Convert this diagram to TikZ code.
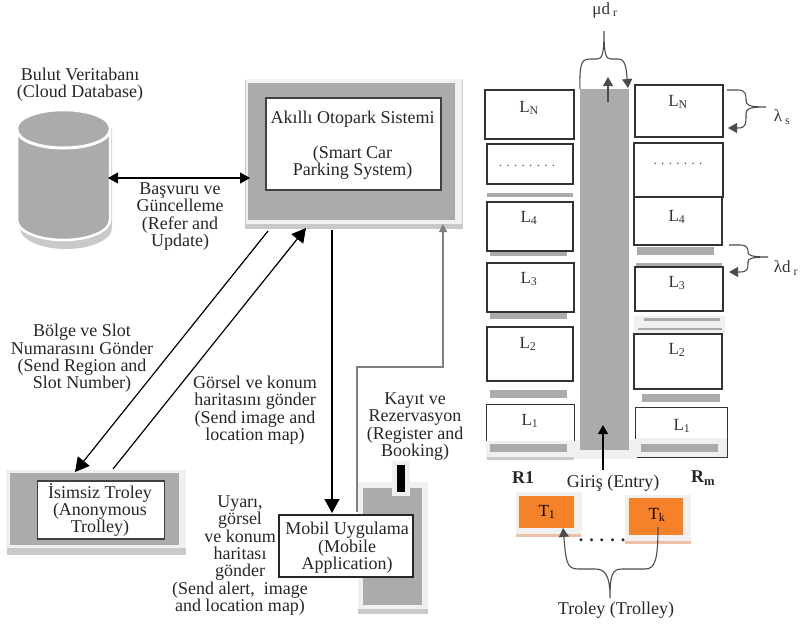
\documentclass[tikz,border=0pt]{standalone}
\usepackage{fontspec}
\setmainfont{Liberation Serif}
\usetikzlibrary{arrows.meta}
\definecolor{panelgrey}{HTML}{ABABAB}
\definecolor{edgegrey}{HTML}{C9C9C9}
\definecolor{paleedge}{HTML}{F0F0F0}
\definecolor{linegrey}{HTML}{808080}
\definecolor{trolleyorange}{HTML}{F58229}
\definecolor{paleorange}{HTML}{EBC0A4}
\begin{document}
\begin{tikzpicture}[x=1pt,y=-1pt,
 lab/.style={align=center,inner sep=0pt,font=\fontsize{18}{17.4}\selectfont,text=black!85},
 sub/.style={inner sep=0pt,font=\fontsize{17}{17}\selectfont,text=black!80},
 boldlab/.style={inner sep=0pt,font=\fontsize{18}{17}\bfseries\selectfont,text=black!85},
 tiny/.style={inner sep=0pt,font=\fontsize{13}{13}\selectfont,text=black!70},
 panel/.style={rectangle,fill=panelgrey,inner sep=0pt},
 halo/.style={rectangle,fill=paleedge,inner sep=0pt},
 rim/.style={rectangle,fill=edgegrey,inner sep=0pt},
 whitebox/.style={rectangle,draw=black!75,fill=white,line width=1.3pt,inner sep=0pt},
 slot/.style={rectangle,draw=black!80,fill=white,line width=1.2pt,inner sep=0pt},
 cart/.style={rectangle,fill=trolleyorange,inner sep=0pt},
 conn/.style={black,line width=1.2pt},
 big/.style={conn,-{Triangle[length=14pt,width=15pt]}},
 small/.style={conn,-{Triangle[length=9pt,width=10pt]}},
 brace/.style={draw=black!70,line width=1.1pt}]
 \useasboundingbox (0,0) rectangle (802,625);

 \fill[edgegrey] (20,128) -- (20,228) arc[start angle=180,end angle=0,x radius=46,y radius=21] -- (112,128) -- cycle;
 \filldraw[fill=panelgrey,draw=white,line width=2.5pt] (17,128) -- (17,220) arc[start angle=180,end angle=0,x radius=46.5,y radius=20] -- (110,128) arc[start angle=0,end angle=-180,x radius=46.5,y radius=18] -- cycle;
 \draw[white,line width=3pt] (17,130) arc[start angle=180,end angle=0,x radius=46.5,y radius=18];
 \node[lab] (cloudtxt) at (80,84.5) {Bulut Veritabanı\\(Cloud Database)};

 \node[rim,minimum width=218pt,minimum height=149pt] (sysedge) at (354,154) {};
 \node[halo,minimum width=216pt,minimum height=145pt] (syshalo) at (353.5,151.5) {};
 \node[panel,minimum width=207pt,minimum height=137pt] (sys) at (351.5,151.5) {};
 \node[whitebox,minimum width=175pt,minimum height=92pt] (sysbox) at (353.5,144) {};
 \node[lab] (systxt) at (352.5,145.5) {Akıllı Otopark Sistemi\\[17.4pt](Smart Car\\Parking System)};

 \node[rim,minimum width=179pt,minimum height=83pt] (tredge) at (96.5,513) {};
 \node[halo,minimum width=180pt,minimum height=78pt] (trhalo) at (96,509) {};
 \node[panel,minimum width=169pt,minimum height=72pt] (troll) at (94.5,509) {};
 \node[whitebox,minimum width=127pt,minimum height=58pt] (trbox) at (101,510) {};
 \node[lab] (trtxt) at (100,510) {İsimsiz Troley\\(Anonymous\\Trolley)};

 \node[rim,minimum width=70pt,minimum height=132pt] (phoneedge) at (393,548) {};
 \node[halo,minimum width=70pt,minimum height=127pt] (phonehalo) at (393,545) {};
 \node[panel,minimum width=59pt,minimum height=117pt] (phone) at (392.5,546.5) {};
 \node[halo,minimum width=18pt,minimum height=35pt] (camhalo) at (401,478) {};
 \node[rectangle,fill=black,inner sep=0pt,minimum width=8pt,minimum height=27pt] (cam) at (401,478.5) {};
 \node[whitebox,draw=black!85,minimum width=134pt,minimum height=62pt] (mob) at (346,546) {};
 \node[lab] (mobtxt) at (347,548) {Mobil Uygulama\\(Mobile\\Application)};

 \node[lab] (refer) at (180,216.5) {Başvuru ve\\Güncelleme\\(Refer and\\Update)};
 \node[lab] (region) at (82,358.5) {Bölge ve Slot\\Numarasını Gönder\\(Send Region and\\Slot Number)};
 \node[lab] (imagetxt) at (255,410) {Görsel ve konum\\haritasını gönder\\(Send image and\\location map)};
 \node[lab] (booking) at (415,426.5) {Kayıt ve\\Rezervasyon\\(Register and\\Booking)};
 \node[lab] (alert) at (240,555.5) {Uyarı,\\görsel\\ve konum\\haritası\\gönder\\(Send alert,~ image\\and location map)};

 \coordinate (sysleft) at (250,178);
 \coordinate (cloudright) at (108,178);
 \coordinate (sysa) at (268,231);
 \coordinate (trolla) at (75,472);
 \coordinate (trollb) at (113,469);
 \coordinate (sysb) at (306,228);
 \coordinate (sysc) at (332,230);
 \coordinate (mobtop) at (332,513);
 \coordinate (phonetop) at (357,512);
 \coordinate (bend1) at (357,367);
 \coordinate (bend2) at (443,367);
 \coordinate (sysd) at (443,224);
 \draw[conn,{Triangle[length=10pt,width=11pt]}-{Triangle[length=10pt,width=11pt]}] (cloudright)--(sysleft);
 \draw[big] (sysa)--(trolla);
 \draw[big] (trollb)--(sysb);
 \draw[big] (sysc)--(mobtop);
 \draw[conn,draw=linegrey,-{Triangle[length=8pt,width=8pt]}] (phonetop)--(bend1)--(bend2)--(sysd);

 \fill[paleedge] (486,440) rectangle (636,459);
 \fill[paleedge] (636,438) rectangle (727,458);
 \fill[paleedge] (634,316) rectangle (725,334);
 \node[panel,minimum width=49pt,minimum height=361pt] (lane) at (604.5,269.5) {};
 \foreach \nm/\cx/\cy/\w/\h in {lN/529.5/114.5/89/49,ldots/530/164/86/40,lfour/530/226.5/86/49,lthree/530.5/287.5/87/49,ltwo/530/354/86/54,rN/679/111/88/52,rdots/678.5/170/89/54,rfour/678/221/88/48,rthree/679/289/88/44,rtwo/678/361.5/88/55}
  \node[slot,minimum width=\w pt,minimum height=\h pt] (\nm) at (\cx,\cy) {};
 \foreach \xa/\ya/\xb/\yb in {487/193/573/197,490/252/567/256,490/313/567/319,490/390/567/398,490/444/567/452,637/247/714/255,636/263/722/266,644/318/720/321,638/328/722/330,642/394/720/402,641/444/718/452}
  \fill[panelgrey] (\xa,\ya) rectangle (\xb,\yb);
 \fill[edgegrey] (487,457) rectangle (574,460);
 \node[slot,draw=none,minimum width=87pt,minimum height=35pt] (lone) at (530.5,422.5) {};
 \node[slot,draw=none,minimum width=91pt,minimum height=30pt] (rone) at (681.5,423) {};
 \fill[panelgrey] (641,444) rectangle (718,452);
 \draw[slot] (lone.south west)--(lone.north west)--(lone.north east)--(lone.south east);
 \draw[slot,fill=none] (rone.south west)--(rone.north west)--(rone.north east)--++(0,50)--++(-91,0);

 \node[sub] (txtlN) at (529,108) {L\textsubscript{N}};
 \node[sub] (txtrN) at (678,102) {L\textsubscript{N}};
 \node[tiny] (txtldots) at (527,166) {. . . . . . . .};
 \node[tiny] (txtrdots) at (678,164) {. . . . . . .};
 \node[sub] (txtl4) at (529,218) {L\textsubscript{4}};
 \node[sub] (txtr4) at (677,217) {L\textsubscript{4}};
 \node[sub] (txtl3) at (529,279) {L\textsubscript{3}};
 \node[sub] (txtr3) at (677,283) {L\textsubscript{3}};
 \node[sub] (txtl2) at (528,344) {L\textsubscript{2}};
 \node[sub] (txtr2) at (677,350) {L\textsubscript{2}};
 \node[sub] (txtl1) at (530,421) {L\textsubscript{1}};
 \node[sub] (txtr1) at (682,426) {L\textsubscript{1}};

 \node[sub] (mu) at (605,10) {μd\textsubscript{ r}};
 \node[sub] (lams) at (782,117) {λ\textsubscript{ s}};
 \node[sub] (lamd) at (786,268) {λd\textsubscript{ r}};
 \coordinate (lanetip) at (628,88);
 \coordinate (upa) at (608,102);
 \coordinate (upb) at (608,77);
 \draw[brace,-{Triangle[length=9pt,width=10pt]}] (lane.north west) .. controls (580,66) and (580,59) .. (590,59) -- (597,59) .. controls (602,59) and (604,55) .. (604,31) .. controls (604,55) and (606,59) .. (611,59) -- (618,59) .. controls (625,59) and (626,66) .. (lanetip);
 \draw[small,draw=black!70] (upa)--(upb);
 \coordinate (sa) at (727,90);
 \coordinate (stip) at (728,128);
 \draw[brace,-{Triangle[length=9pt,width=10pt]}] (sa) -- (738,90) .. controls (746,90) and (746,95) .. (746,100) .. controls (746,105) and (748,107) .. (766,107) .. controls (748,107) and (746,109) .. (746,114) .. controls (746,124) and (746,128) .. (738,128) -- (stip);
 \coordinate (da) at (729,245);
 \coordinate (dtip) at (729,272);
 \draw[brace,-{Triangle[length=9pt,width=10pt]}] (da) -- (740,245) .. controls (747,245) and (748,248) .. (748,252) .. controls (748,255) and (750,257) .. (768,257) .. controls (750,257) and (748,259) .. (748,262) .. controls (748,268) and (748,272) .. (740,272) -- (dtip);

 \node[lab] (entry) at (613,483) {Giriş (Entry)};
 \node[boldlab] (rfirst) at (523,478) {R1};
 \node[boldlab] (rlast) at (703,478) {R\textsubscript{m}};
 \coordinate (entrya) at (603,470);
 \coordinate (entryb) at (603,425);
 \draw[small] (entrya)--(entryb);

 \node[halo,minimum width=66pt,minimum height=42pt] (tonehalo) at (549,513) {};
 \node[halo,minimum width=66pt,minimum height=48pt] (tkhalo) at (658,519) {};
 \fill[paleorange] (516,534) rectangle (581,537);
 \fill[paleorange] (625,541) rectangle (691,544);
 \node[cart,minimum width=55pt,minimum height=32pt] (tone) at (546.5,512) {};
 \node[cart,minimum width=54pt,minimum height=37pt] (tk) at (656,516.5) {};
 \node[sub,text=black] (tonetxt) at (547,512) {T\textsubscript{1}};
 \node[sub,text=black] (tktxt) at (657,515) {T\textsubscript{k}};
 \node[boldlab] (cartdots) at (602,540) {. . . . .};
 \node[lab] (trolley) at (616,610) {Troley (Trolley)};
 \coordinate (tonetip) at (563,528);
 \coordinate (tkend) at (658,527);
 \draw[brace,{Triangle[length=9pt,width=10pt]}-] (tonetip) .. controls (566,560) and (566,569) .. (578,569) -- (595,569) .. controls (605,569) and (610,575) .. (610,598) .. controls (610,575) and (612,569) .. (622,569) -- (645,569) .. controls (655,569) and (658,560) .. (tkend);
\end{tikzpicture}
\end{document}
